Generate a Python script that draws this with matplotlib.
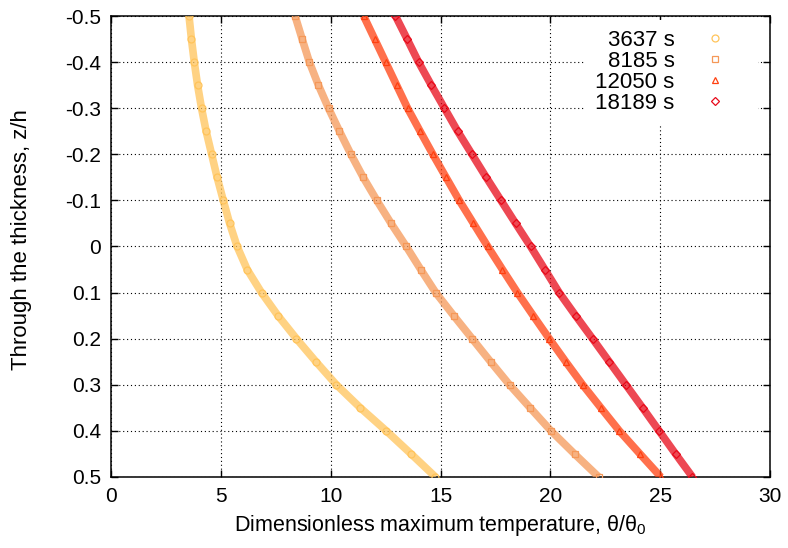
import matplotlib
matplotlib.use("Agg")
import matplotlib.pyplot as plt

plt.rcParams['font.family'] = ['Liberation Sans', 'DejaVu Sans']
plt.rcParams['mathtext.fontset'] = 'custom'
plt.rcParams['mathtext.rm'] = 'Liberation Sans'
plt.rcParams['mathtext.it'] = 'Liberation Sans'
plt.rcParams['axes.unicode_minus'] = False

# positions through the thickness (read every 0.05)
z = [-0.5, -0.45, -0.4, -0.35, -0.3, -0.25, -0.2, -0.15, -0.1, -0.05, 0.0,
     0.05, 0.1, 0.15, 0.2, 0.25, 0.3, 0.35, 0.4, 0.45, 0.5]

# dimensionless maximum temperature per time
t_3637 = [3.55, 3.66, 3.79, 3.94, 4.12, 4.33, 4.58, 4.83, 5.11, 5.40, 5.74,
          6.20, 6.85, 7.60, 8.44, 9.33, 10.26, 11.35, 12.53, 13.66, 14.77]
t_8185 = [8.38, 8.70, 9.03, 9.44, 9.90, 10.40, 10.92, 11.48, 12.10, 12.75, 13.44,
          14.10, 14.78, 15.60, 16.44, 17.28, 18.14, 19.08, 20.03, 21.10, 22.20]
t_12050 = [11.50, 12.00, 12.50, 13.00, 13.50, 14.07, 14.65, 15.25, 15.85, 16.50, 17.15,
           17.82, 18.50, 19.22, 19.95, 20.70, 21.47, 22.30, 23.14, 24.08, 25.03]
t_18189 = [12.95, 13.48, 14.00, 14.58, 15.18, 15.78, 16.43, 17.08, 17.75, 18.42, 19.10,
           19.75, 20.40, 21.15, 21.92, 22.68, 23.44, 24.20, 24.95, 25.70, 26.47]

labels = ['3637 s', '8185 s', '12050 s', '18189 s']
series = [t_3637, t_8185, t_12050, t_18189]
colors = ['#ffc45a', '#f59858', '#ff4010', '#e80a1a']
markers = ['o', 's', '^', 'D']

x_ticks = [0, 5, 10, 15, 20, 25, 30]
y_ticks = [-0.5, -0.4, -0.3, -0.2, -0.1, 0, 0.1, 0.2, 0.3, 0.4, 0.5]
y_tick_labels = ['-0.5', '-0.4', '-0.3', '-0.2', '-0.1', '0', '0.1', '0.2', '0.3', '0.4', '0.5']

fig = plt.figure(figsize=(7.88, 5.48), dpi=100)
ax = fig.add_axes([0.1409, 0.1296, 0.8363, 0.8412])

for vals, lab, col, mk in zip(series, labels, colors, markers):
    ax.plot(vals, z, color=col, lw=5.5, alpha=0.75, solid_capstyle='butt', zorder=3)
    ax.plot(vals, z, linestyle='none', marker=mk, markersize=5 if mk != 'D' else 4.2,
            markerfacecolor='none', markeredgecolor=col, markeredgewidth=0.9,
            label=lab, zorder=4)

ax.set_xlim(0, 30)
ax.set_ylim(0.5, -0.5)
ax.set_xticks(x_ticks)
ax.set_xticklabels([str(v) for v in x_ticks])
ax.set_yticks(y_ticks)
ax.set_yticklabels(y_tick_labels)
ax.tick_params(direction='in', length=5, width=1, labelsize=15, top=True, right=True, pad=7)
ax.grid(True, color='black', linestyle=(0, (1, 2.5)), linewidth=0.8)
for sp in ax.spines.values():
    sp.set_linewidth(1.1)

ax.set_xlabel('Dimensionless maximum temperature, θ/θ$_0$', fontsize=15.5, labelpad=5)
ax.set_ylabel('Through the thickness, z/h', fontsize=16)
ax.yaxis.set_label_coords(-0.12, 0.514)

leg = ax.legend(loc='upper right', bbox_to_anchor=(1.0, 1.017), markerfirst=False,
                frameon=True, fontsize=16, handletextpad=0.3, labelspacing=0.0,
                borderaxespad=0.54, handlelength=3.0, fancybox=False, borderpad=0.45)
leg.get_frame().set_edgecolor('none')
leg.get_frame().set_facecolor('white')
leg.get_frame().set_alpha(1)
for t in leg.get_texts():
    t.set_ha('right')
leg.set_zorder(5)

fig.savefig('out.png', dpi=100)
